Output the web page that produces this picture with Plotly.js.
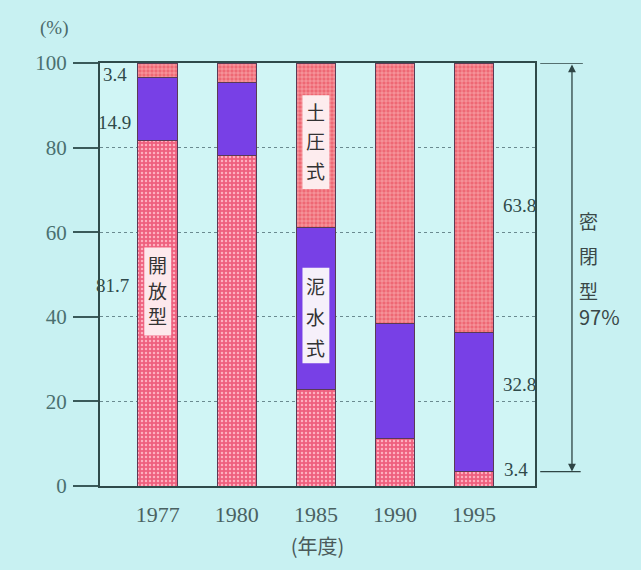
<!DOCTYPE html>
<html>
<head>
<meta charset="utf-8">
<script src="https://cdn.plot.ly/plotly-3.0.1.min.js"></script>
<style>html,body{margin:0;padding:0;background:#c8f1f2;}</style>
</head>
<body>
<div id="chart" style="width:641px;height:570px;"></div>
<script>
// ---- data ----
const years = ["1977", "1980", "1985", "1990", "1995"];
const openType = [81.7, 78.2, 22.7, 11.3, 3.4];      // 開放型
const slurryType = [14.9, 17.3, 38.5, 27.2, 32.8];   // 泥水式
const earthType = [3.4, 4.5, 38.8, 61.5, 63.8];      // 土圧式
const yTicks = [0, 20, 40, 60, 80, 100];
const closedLabel = ["密", "閉", "型"];
const closedShare = 97;                              // 密閉型 97%

const serif = "Liberation Serif, Times New Roman, serif";
const cjk = "Noto Sans CJK JP, Noto Sans CJK SC, sans-serif";
const outline = {color: "#5a3a55", width: 1};

const traces = [
  {type: "bar", x: years, y: openType, name: "開放型", width: 0.5,
   marker: {color: "#ee6280", line: outline,
     pattern: {shape: ".", bgcolor: "#ee607e", fgcolor: "#ffb0c0", size: 4, solidity: 0.3}}},
  {type: "bar", x: years, y: slurryType, name: "泥水式", width: 0.5,
   marker: {color: "#7840e6", line: outline}},
  {type: "bar", x: years, y: earthType, name: "土圧式", width: 0.5,
   marker: {color: "#ee6a76", line: outline,
     pattern: {shape: "+", bgcolor: "#ee6874", fgcolor: "#ffc8cc", size: 4, solidity: 0.22}}}
];

const lblFont = {family: serif, size: 19, color: "#2f4a4a"};
const last = years.length - 1;

const annotations = [
  {xref: "paper", yref: "paper", x: -0.105, y: 1.082, text: "(%)", showarrow: false,
   font: {family: serif, size: 19, color: "#4a6a6a"}, xanchor: "center", yanchor: "middle"},
  // left value labels (1977)
  {x: 0, y: 97.3, text: String(earthType[0]), xshift: -43, showarrow: false, font: lblFont},
  {x: 0, y: 86, text: String(slurryType[0]), xshift: -43, showarrow: false, font: lblFont},
  {x: 0, y: 47.5, text: String(openType[0]), xshift: -45, showarrow: false, font: lblFont},
  // right value labels (1995)
  {x: last, y: 66.3, text: String(earthType[last]), xshift: 45, showarrow: false, font: lblFont},
  {x: last, y: 24, text: String(slurryType[last]), xshift: 45, showarrow: false, font: lblFont},
  {x: last, y: 3.8, text: String(openType[last]), xshift: 42, showarrow: false, font: lblFont},
  // double arrow
  {xref: "paper", x: 1.085, y: openType[last], axref: "pixel", ax: 0, ayref: "y", ay: 100,
   text: "", showarrow: true, arrowside: "end+start", arrowhead: 2, arrowsize: 1.2,
   arrowwidth: 1.3, arrowcolor: "#2f4545"}
];

// in-bar vertical labels: one character per annotation, white box drawn as a shape
const barLabels = [
  {x: 0, chars: ["開", "放", "型"], ys: [52.4, 46.3, 40.2], box: [35.6, 56.4], fill: "#fde8ec"},
  {x: 2, chars: ["土", "圧", "式"], ys: [88.6, 81.6, 74.6], box: [70.2, 92.4], fill: "#fdecee"},
  {x: 2, chars: ["泥", "水", "式"], ys: [47.4, 40.1, 32.8], box: [29.0, 51.6], fill: "#f6f0fa"}
];
const shapes = [
  {type: "line", xref: "paper", yref: "y", x0: 1.012, x1: 1.11, y0: 100, y1: 100,
   line: {color: "#2f4545", width: 1.3}},
  {type: "line", xref: "paper", yref: "y", x0: 1.012, x1: 1.105, y0: openType[last], y1: openType[last],
   line: {color: "#2f4545", width: 1.3}}
];
barLabels.forEach(function (b) {
  shapes.push({type: "rect", xref: "x", yref: "y", layer: "above",
    x0: b.x - 0.17, x1: b.x + 0.17, y0: b.box[0], y1: b.box[1],
    fillcolor: b.fill, line: {width: 0}});
  b.chars.forEach(function (c, i) {
    annotations.push({x: b.x, y: b.ys[i], text: c, showarrow: false,
      font: {family: cjk, size: 19, color: "#333"}});
  });
});

// 密閉型 97% (one item per line, left aligned)
const closedY = [62.8, 54.5, 46.3, 40.1];
closedLabel.concat([closedShare + "%"]).forEach(function (t, i) {
  annotations.push({xref: "paper", x: 1.097, xanchor: "left", y: closedY[i], text: t, showarrow: false,
    font: {family: cjk, size: i < 3 ? 19 : 20, color: "#3a4848"}});
});

const layout = {
  width: 641, height: 570,
  margin: {l: 100, r: 106, t: 63, b: 84},
  paper_bgcolor: "#c8f1f2", plot_bgcolor: "#d0f5f5",
  barmode: "stack", showlegend: false,
  xaxis: {type: "category", range: [-0.73, 4.77], showline: true, mirror: true,
    linecolor: "#2f4a4a", linewidth: 2, ticks: "", ticklabelstandoff: 8,
    tickfont: {family: serif, size: 22, color: "#4a6262"},
    title: {text: "(年度)", standoff: 14, font: {family: cjk, size: 20, color: "#4a5a5a"}}},
  yaxis: {range: [0, 100], tickvals: yTicks, showline: true, mirror: true,
    linecolor: "#2f4a4a", linewidth: 2, ticks: "outside", ticklen: 25, tickwidth: 2,
    tickcolor: "#3a5a5a", ticklabelstandoff: 2,
    tickfont: {family: serif, size: 21, color: "#4a7070"},
    showgrid: true, gridcolor: "#6a8a90", griddash: "dot", gridwidth: 1, zeroline: false},
  annotations: annotations,
  shapes: shapes
};

Plotly.newPlot("chart", traces, layout, {displayModeBar: false, staticPlot: true});
</script>
</body>
</html>
